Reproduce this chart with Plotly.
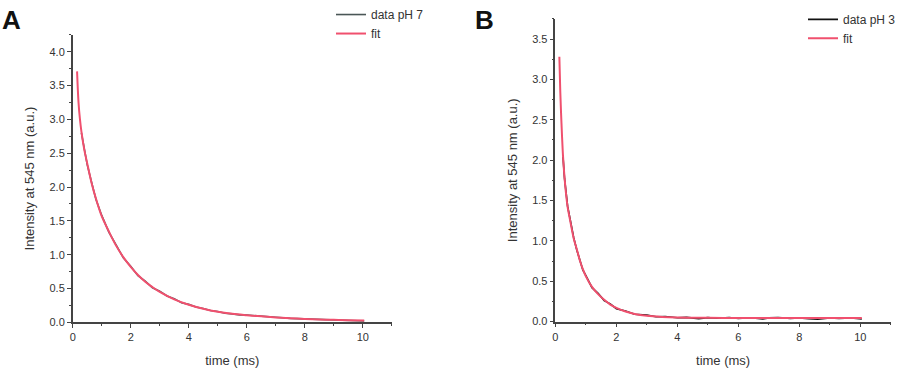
import plotly.graph_objects as go
from plotly.subplots import make_subplots

# ── Panel A: pH 7 ─────────────────────────────────────────────────────────────
t_fit_a = [0.15, 0.2, 0.25, 0.3, 0.4, 0.5, 0.65, 0.8, 1.0, 1.25, 1.5, 1.75, 2.0,
           2.25, 2.5, 2.75, 3.0, 3.5, 4.0, 4.5, 5.0, 5.5, 6.0, 6.5, 7.0, 7.5,
           8.0, 8.5, 9.0, 9.5, 10.05]
y_fit_a = [3.71, 3.25, 3.00, 2.82, 2.55, 2.35, 2.06, 1.83, 1.57, 1.34, 1.13,
           0.96, 0.82, 0.70, 0.60, 0.52, 0.45, 0.34, 0.26, 0.20, 0.155, 0.125,
           0.105, 0.088, 0.072, 0.060, 0.050, 0.042, 0.036, 0.031, 0.027]

t_dat_a = [0.3, 0.4, 0.5, 0.65, 0.8, 1.0, 1.25, 1.5, 1.75, 2.0, 2.25, 2.5, 2.75,
           3.0, 3.25, 3.5, 3.75, 4.0, 4.25, 4.5, 4.75, 5.0, 5.25, 5.5, 5.75,
           6.0, 6.5, 7.0, 7.5, 8.0, 8.5, 9.0, 9.5, 9.8, 10.05]
y_dat_a = [2.80, 2.56, 2.33, 2.07, 1.82, 1.58, 1.33, 1.14, 0.95, 0.83, 0.69,
           0.61, 0.51, 0.46, 0.39, 0.35, 0.29, 0.265, 0.225, 0.205, 0.175,
           0.16, 0.135, 0.125, 0.11, 0.108, 0.086, 0.074, 0.058, 0.052, 0.040,
           0.037, 0.029, 0.030, 0.020]

# ── Panel B: pH 3 ─────────────────────────────────────────────────────────────
t_fit_b = [0.13, 0.16, 0.2, 0.25, 0.3, 0.35, 0.4, 0.5, 0.6, 0.7, 0.8, 0.9, 1.0,
           1.2, 1.4, 1.6, 1.8, 2.0, 2.3, 2.6, 3.0, 3.5, 4.0, 5.0, 6.0, 7.0,
           8.0, 9.0, 10.05]
y_fit_b = [3.28, 2.85, 2.45, 2.05, 1.78, 1.58, 1.42, 1.22, 1.03, 0.90, 0.76,
           0.65, 0.56, 0.43, 0.34, 0.27, 0.21, 0.17, 0.125, 0.095, 0.072,
           0.058, 0.051, 0.046, 0.044, 0.043, 0.043, 0.043, 0.043]

t_dat_b = [0.25, 0.3, 0.4, 0.5, 0.6, 0.7, 0.8, 0.9, 1.0, 1.2, 1.4, 1.6, 1.8,
           2.0, 2.3, 2.6, 3.0, 3.3, 3.6, 4.0, 4.3, 4.7, 5.0, 5.3, 5.7, 6.0,
           6.4, 6.8, 7.0, 7.3, 7.7, 8.0, 8.3, 8.6, 9.0, 9.3, 9.7, 10.05]
y_dat_b = [2.04, 1.77, 1.43, 1.21, 1.04, 0.89, 0.77, 0.64, 0.57, 0.42, 0.35,
           0.26, 0.22, 0.16, 0.13, 0.09, 0.080, 0.060, 0.062, 0.048, 0.052,
           0.036, 0.049, 0.041, 0.050, 0.038, 0.047, 0.032, 0.046, 0.051,
           0.039, 0.045, 0.036, 0.030, 0.046, 0.038, 0.044, 0.031]

FONT = "Liberation Sans, Arial, sans-serif"
TXT = "#333333"
FIT_COLOR = "#f0506e"

fig = make_subplots(rows=1, cols=2)

fig.add_trace(go.Scatter(x=t_dat_a, y=y_dat_a, mode="lines", name="data pH 7",
                         line=dict(color="#4a5656", width=1.6), legend="legend"),
              row=1, col=1)
fig.add_trace(go.Scatter(x=t_fit_a, y=y_fit_a, mode="lines", name="fit",
                         line=dict(color=FIT_COLOR, width=2, shape="spline"),
                         legend="legend"),
              row=1, col=1)
fig.add_trace(go.Scatter(x=t_dat_b, y=y_dat_b, mode="lines", name="data pH 3",
                         line=dict(color="#111111", width=1.6), legend="legend2"),
              row=1, col=2)
fig.add_trace(go.Scatter(x=t_fit_b, y=y_fit_b, mode="lines", name="fit",
                         line=dict(color=FIT_COLOR, width=2, shape="spline"),
                         legend="legend2"),
              row=1, col=2)

axis_common = dict(
    showline=True, linecolor="#444444", linewidth=1.5, showgrid=False,
    zeroline=False, ticks="outside", ticklen=4, tickwidth=1.2,
    tickcolor="#444444", tickfont=dict(size=11, color=TXT, family=FONT),
    minor=dict(ticks="outside", ticklen=2, tickwidth=1, tickcolor="#444444"),
    automargin=False,
)

fig.update_xaxes(axis_common, range=[0, 11], dtick=2, tick0=0,
                 minor_dtick=1,
                 title=dict(text="time (ms)", font=dict(size=13, color=TXT, family=FONT),
                            standoff=14))
fig.update_yaxes(axis_common, dtick=0.5, tick0=0, minor_dtick=0.25,
                 tickformat=".1f",
                 title=dict(text="Intensity at 545 nm (a.u.)",
                            font=dict(size=13, color=TXT, family=FONT), standoff=12))

legend_common = dict(xanchor="left", yanchor="top",
                     font=dict(size=12, color=TXT, family=FONT),
                     bgcolor="rgba(0,0,0,0)", tracegroupgap=0)

fig.update_layout(
    width=909, height=373,
    margin=dict(l=0, r=0, t=0, b=0),
    paper_bgcolor="#ffffff", plot_bgcolor="#ffffff",
    font=dict(family=FONT, color=TXT),
    xaxis=dict(domain=[0.080, 0.431]),
    yaxis=dict(domain=[0.137, 0.914], range=[0, 4.25]),
    xaxis2=dict(domain=[0.611, 0.980]),
    yaxis2=dict(domain=[0.139, 0.957], range=[0, 3.75]),
    legend=dict(legend_common, x=331 / 909, y=1.008),
    legend2=dict(legend_common, x=803 / 909, y=0.995),
)

for letter, xp in (("A", 0), ("B", 473)):
    fig.add_annotation(text=f"<b>{letter}</b>", xref="paper", yref="paper",
                       x=xp / 909, y=1.0, xanchor="left", yanchor="top",
                       showarrow=False,
                       font=dict(size=26, color="#111111", family=FONT))

# the page body keeps its default 8px margin otherwise
fig.write_html("out.html", config={"displayModeBar": False},
               post_script="document.body.style.margin='0px';")
